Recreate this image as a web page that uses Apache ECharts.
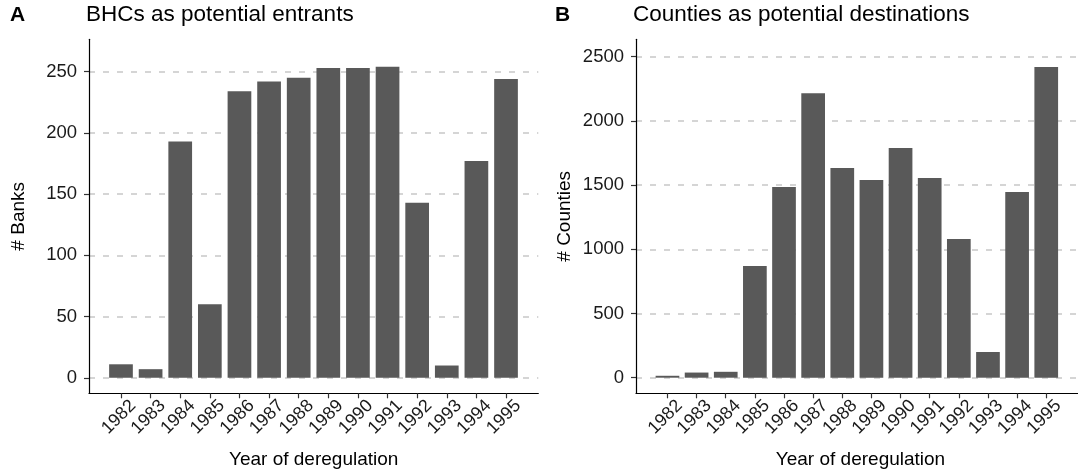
<!DOCTYPE html>
<html>
<head>
<meta charset="utf-8">
<script src="https://cdn.jsdelivr.net/npm/echarts@6/dist/echarts.min.js"></script>
<style>
  html, body { margin: 0; padding: 0; background: #ffffff; }
  #chart { width: 1078px; height: 476px; }
</style>
</head>
<body>
<div id="chart"></div>
<script>
// Year in which each state deregulated interstate banking
const years = [1982, 1983, 1984, 1985, 1986, 1987, 1988, 1989, 1990, 1991, 1992, 1993, 1994, 1995];

// Panel A: number of bank holding companies that could enter
const bankCounts = [11, 7, 193, 60, 234, 242, 245, 253, 253, 254, 143, 10, 177, 244];

// Panel B: number of counties open as destinations
const countyCounts = [15, 40, 46, 870, 1485, 2215, 1633, 1540, 1789, 1556, 1080, 200, 1446, 2420];

// Tick values for the y axes
const bankTicks = [0, 50, 100, 150, 200, 250];
const countyTicks = [0, 500, 1000, 1500, 2000, 2500];

const FONT = '"Liberation Sans", Arial, Helvetica, sans-serif';
const BAR = '#595959';
const INK = '#000000';

const chart = echarts.init(document.getElementById('chart'), null, { renderer: 'canvas' });

function xAxisFor(gridIndex) {
  return {
    type: 'value',
    gridIndex: gridIndex,
    min: 1980.92,
    max: 1996.09,
    splitLine: { show: false },
    axisLine: { show: true, onZero: false, lineStyle: { color: INK, width: 1.2 } },
    axisTick: { show: true, length: 5, customValues: years, lineStyle: { color: '#333333', width: 1.2 } },
    axisLabel: {
      customValues: years,
      rotate: 45,
      margin: 9,
      align: 'right',
      verticalAlign: 'top',
      padding: [0, -8, 0, 0],
      color: '#1a1a1a',
      fontFamily: FONT,
      fontSize: 18,
      formatter: v => String(v)
    }
  };
}

function yAxisFor(gridIndex, min, max, interval, ticks) {
  return {
    type: 'value',
    gridIndex: gridIndex,
    min: min,
    max: max,
    interval: interval,
    axisLine: { show: true, lineStyle: { color: INK, width: 1.2 } },
    axisTick: { show: true, length: 5, customValues: ticks, lineStyle: { color: '#333333', width: 1.2 } },
    axisLabel: {
      customValues: ticks,
      margin: 12,
      color: '#1a1a1a',
      fontFamily: FONT,
      fontSize: 18.5,
      formatter: v => String(v)
    },
    splitLine: {
      show: true,
      showMinLine: true,
      showMaxLine: true,
      lineStyle: { color: '#c8c8c8', width: 1.5, type: [6, 8] }
    }
  };
}

function barSeries(index, values) {
  return {
    type: 'bar',
    xAxisIndex: index,
    yAxisIndex: index,
    barWidth: 23.7,
    itemStyle: { color: BAR },
    data: years.map((y, i) => [y, values[i]]),
    silent: true,
    animation: false
  };
}

function text(str, x, y, opts) {
  return {
    type: 'text',
    x: x,
    y: y,
    silent: true,
    style: Object.assign({
      text: str,
      fill: '#000000',
      font: '19px ' + FONT,
      textAlign: 'left',
      textVerticalAlign: 'middle'
    }, opts || {})
  };
}

const option = {
  backgroundColor: '#ffffff',
  animation: false,
  grid: [
    { left: 89, top: 39.3, width: 449.3, height: 354 },
    { left: 636, top: 39.3, width: 449, height: 354 }
  ],
  xAxis: [xAxisFor(0), xAxisFor(1)],
  yAxis: [
    yAxisFor(0, -12.7, 276.5, 50, bankTicks),
    yAxisFor(1, -121.5, 2635.5, 500, countyTicks)
  ],
  series: [barSeries(0, bankCounts), barSeries(1, countyCounts)],
  graphic: [
    text('A', 10, 15, { font: 'bold 21px ' + FONT }),
    text('BHCs as potential entrants', 86, 15, { font: '22.5px ' + FONT }),
    text('B', 555, 15, { font: 'bold 21px ' + FONT }),
    text('Counties as potential destinations', 633, 15, { font: '22.5px ' + FONT }),
    text('Year of deregulation', 313.7, 460, { textAlign: 'center' }),
    text('Year of deregulation', 860.5, 460, { textAlign: 'center' }),
    Object.assign(text('# Banks', 18.5, 216.3, { textAlign: 'center' }), { rotation: Math.PI / 2 }),
    Object.assign(text('# Counties', 565, 216.3, { textAlign: 'center' }), { rotation: Math.PI / 2 })
  ]
};

chart.setOption(option);
</script>
</body>
</html>
